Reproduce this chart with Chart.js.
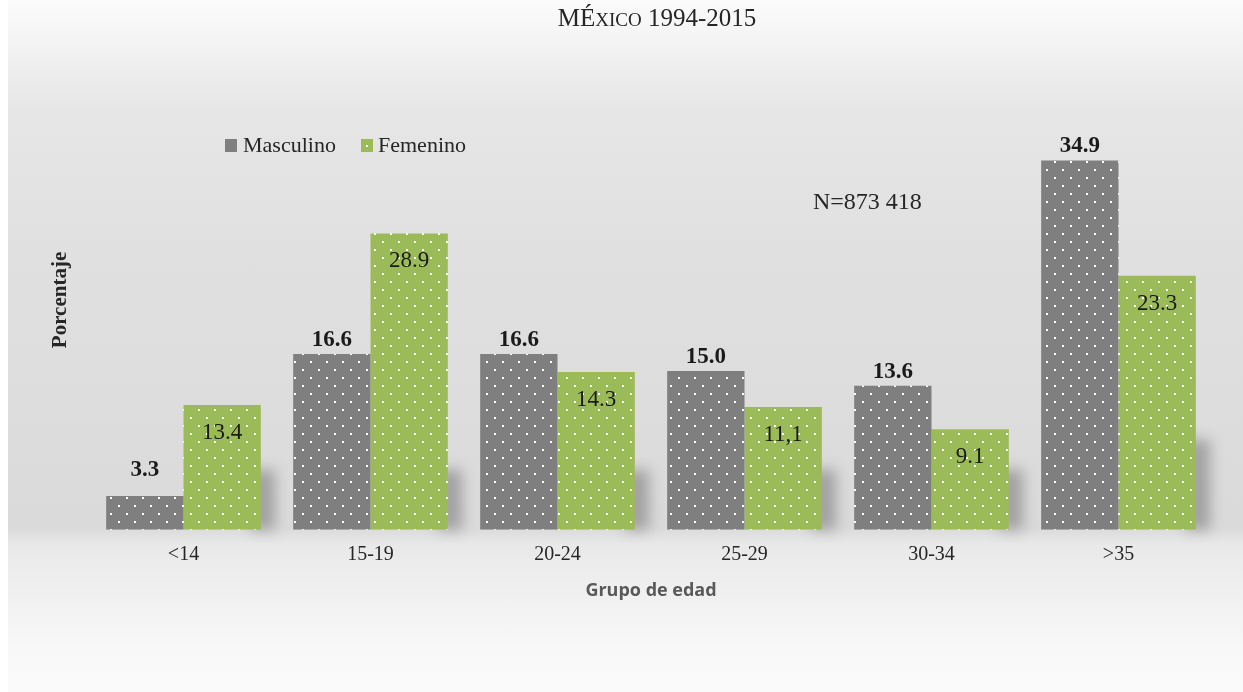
<!DOCTYPE html>
<html>
<head>
<meta charset="utf-8">
<script src="https://cdn.jsdelivr.net/npm/chart.js@4.4.1/dist/chart.umd.min.js"></script>
<style>
    html, body { margin: 0; padding: 0; background: #ffffff; }
    #wrap {
        position: relative;
        width: 1243px;
        height: 692px;
        background: linear-gradient(to bottom, #fbfbfb 0px, #f3f3f3 45px, #e6e6e6 110px, #e0e0e0 260px, #dbdbdb 480px, #dadada 528px, #e9e9e9 545px, #f1f1f1 600px, #f8f8f8 650px, #fafafa 692px);
    }
    #wrap:before {
        content: ''; position: absolute; left: 0; top: 0; width: 8px; height: 692px; background: #ffffff;
    }
    canvas { position: absolute; left: 0; top: 0; }
</style>
</head>
<body>
<div id="wrap"><canvas id="chart-js" width="1243" height="692"></canvas></div>
<script>
    const grupos = ['<14', '15-19', '20-24', '25-29', '30-34', '>35'];
    const masculino = [3.2, 16.6, 16.6, 15.0, 13.6, 34.9];
    const femenino = [11.8, 28.0, 14.9, 11.6, 9.5, 24.0];
    // textos impresos sobre las barras
    const etiquetasMasculino = ['3.3', '16.6', '16.6', '15.0', '13.6', '34.9'];
    const etiquetasFemenino = ['13.4', '28.9', '14.3', '11,1', '9.1', '23.3'];
    const titulo = ['MÉ', 'XICO', ' 1994-2015'];
    const nota = 'N=873 418';

    const serif = "'Liberation Serif', 'Times New Roman', serif";

    function makePattern(color) {
        const c = document.createElement('canvas');
        c.width = 16; c.height = 16;
        const g = c.getContext('2d');
        g.fillStyle = color;
        g.fillRect(0, 0, 16, 16);
        g.fillStyle = '#ffffff';
        g.fillRect(14, 1, 2, 2);
        g.fillRect(6, 9, 2, 2);
        return g.createPattern(c, 'repeat');
    }

    const grisColor = '#7f7f7f', verdeColor = '#9bbb59';

    const decoraciones = {
        id: 'decoraciones',
        beforeDatasetsDraw(chart) {
            const ctx = chart.ctx;
            const base = chart.scales.y.getPixelForValue(0);
            const meta = chart.getDatasetMeta(1);
            ctx.save();
            // sombra suave detras de las barras
            ctx.filter = 'blur(7px)';
            ctx.fillStyle = 'rgba(90,90,90,0.45)';
            meta.data.forEach((bar, i) => {
                const h = i === meta.data.length - 1 ? 90 : 60;
                ctx.fillRect(bar.x + bar.width / 2 - 10, base - h, 24, h);
            });
            ctx.restore();
        },
        afterDatasetsDraw(chart) {
            const ctx = chart.ctx;
            ctx.save();
            ctx.textAlign = 'center';
            ctx.textBaseline = 'alphabetic';
            ctx.fillStyle = '#1a1a1a';
            ctx.font = 'bold 23px ' + serif;
            chart.getDatasetMeta(0).data.forEach((bar, i) => {
                ctx.fillText(etiquetasMasculino[i], bar.x, bar.y - (i === 0 ? 20 : 8));
            });
            ctx.font = '23px ' + serif;
            chart.getDatasetMeta(1).data.forEach((bar, i) => {
                ctx.fillText(etiquetasFemenino[i], bar.x, bar.y + 34);
            });

            // titulo en versalitas
            ctx.textAlign = 'left';
            ctx.fillStyle = '#262626';
            const tam = [25, 19, 25];
            let w = 0;
            titulo.forEach((t, i) => { ctx.font = tam[i] + 'px ' + serif; w += ctx.measureText(t).width; });
            let x = 657 - w / 2;
            titulo.forEach((t, i) => {
                ctx.font = tam[i] + 'px ' + serif;
                ctx.fillText(t, x, 26);
                x += ctx.measureText(t).width;
            });

            // leyenda
            ctx.font = '22px ' + serif;
            ctx.fillStyle = grisColor;
            ctx.fillRect(225, 139, 12, 13);
            ctx.fillStyle = verdeColor;
            ctx.fillRect(361, 139, 12, 13);
            ctx.fillStyle = '#ffffff';
            ctx.fillRect(366, 145, 2, 2);
            ctx.fillStyle = '#262626';
            ctx.fillText(chart.data.datasets[0].label, 243, 152);
            ctx.fillText(chart.data.datasets[1].label, 378, 152);

            // N
            ctx.font = '24px ' + serif;
            ctx.fillText(nota, 813, 209);

            // titulo eje y
            ctx.translate(66, 300);
            ctx.rotate(-Math.PI / 2);
            ctx.textAlign = 'center';
            ctx.font = 'bold 21px ' + serif;
            ctx.fillText('Porcentaje', 0, 0);
            ctx.restore();
        }
    };

    const ctx = document.getElementById('chart-js');
    const data = {
        labels: grupos,
        datasets: [
            {
                label: 'Masculino',
                data: masculino,
                backgroundColor: makePattern(grisColor),
            },
            {
                label: 'Femenino',
                data: femenino,
                backgroundColor: makePattern(verdeColor),
            },
        ]
    };
    const config = {
        type: 'bar',
        data: data,
        options: {
            responsive: false,
            animation: false,
            layout: {
                padding: { top: 148.8, left: 90, right: 31, bottom: 84.6 }
            },
            datasets: {
                bar: { categoryPercentage: 0.827, barPercentage: 1 }
            },
            plugins: {
                legend: { display: false },
                title: { display: false },
                tooltip: { enabled: false },
            },
            scales: {
                x: {
                    grid: { display: false, drawTicks: false },
                    border: { display: false },
                    ticks: {
                        padding: 13,
                        color: '#262626',
                        font: { family: serif, size: 20 },
                    },
                    title: {
                        display: true,
                        text: 'Grupo de edad',
                        color: '#595959',
                        font: { family: "'Open Sans', sans-serif", size: 18, weight: 'bold' },
                        padding: { top: 0, bottom: 6 },
                    },
                },
                y: {
                    display: false,
                    min: 0,
                    max: 36,
                }
            }
        },
        plugins: [decoraciones]
    };
    new Chart(ctx, config);
</script>
</body>
</html>
